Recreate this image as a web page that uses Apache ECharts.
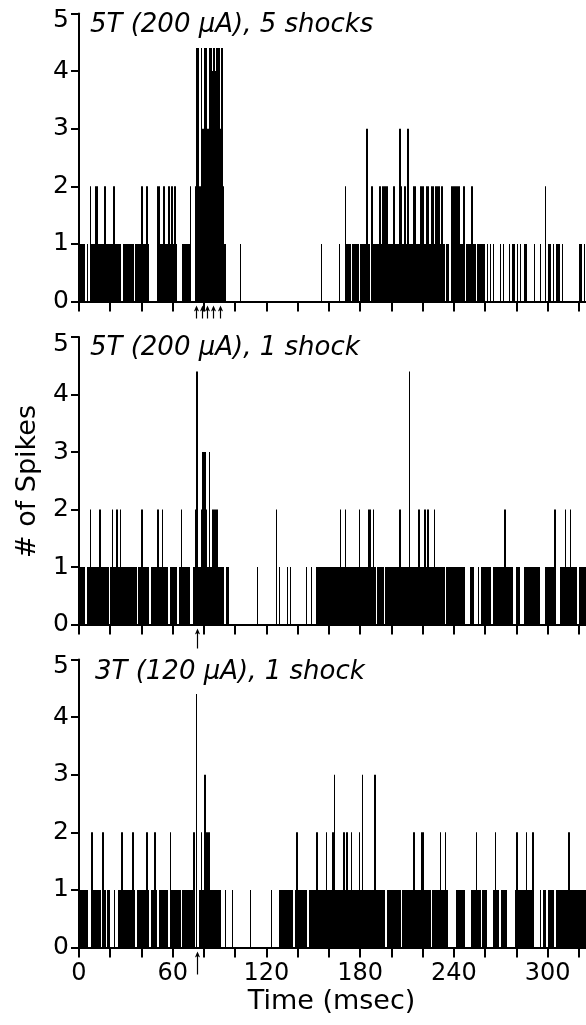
<!DOCTYPE html>
<html><head><meta charset="utf-8">
<script src="https://cdn.jsdelivr.net/npm/echarts/dist/echarts.min.js"></script>
<style>html,body{margin:0;padding:0;background:#fff}#c{width:586px;height:1025px}</style>
</head><body><div id="c"></div>
<script>
// ---- data (1 ms bins, one character per bin; 'x' = bar clipped at 4.4) ----
const BIN_MS = 1;
const CLIPPED = 4.4;
const titles = ["5T (200 \u03bcA), 5 shocks", "5T (200 \u03bcA), 1 shock", "3T (120 \u03bcA), 1 shock"];
const shockTimes1 = [75, 78.5, 82, 86, 90];
const shockTimes2 = [75.3];
const shockTimes3 = [75.3];
const xTickValues = [0,20,40,60,80,100,120,140,160,180,200,220,240,260,280,300,320];
const xLabelValues = [0,60,120,180,240,300];

const p1Counts =
 "1111010211 2211112111 1121111011 1111101111 2112100000 2211211212 1210001111 12002xx2x3 xx3xx4x4xx 3x21000000 " +
 "0001000000 0000000000 0000000000 0000000000 0000000000 0000010000 0000001000 2111011110 1111310211 1121222211 " +
 "1211132121 3111221122 2122122122 2121011022 2222112011 1211011111 0101010001 0100010110 1010011000 0100010020 " +
 "1101011101 0000000000 11010";
const p2Counts =
 "1111011211 1112111110 1211212111 1111111011 2111101111 2112111011 1110121111 10012x1123 3213122221 1110110000 " +
 "0000000000 0000100000 0000002010 0001010000 0000010010 0011111111 1111111211 2111111112 1111122121 0111101111 " +
 "1111121111 1x11111211 1212111211 1111011111 1111111000 1110010111 1111011111 1121111100 1100011111 1111100011 " +
 "1111200011 1211211110 11111";
const p3Counts =
 "1111110021 1111021011 0010011211 1111210111 1112101121 0111111021 1111101111 11120x0121 3222111111 1001000010 " +
 "0000000001 0000000000 0001000011 1111111012 1111110111 1121111121 1123111112 1211211112 1311111113 1111110111 " +
 "1111110111 1111211112 2111101111 1211210000 0111111000 0111211011 1000012110 1111000001 2111112111 2000010110 " +
 "1111011111 1112111111 11111";

function parseCounts(s) {
  return s.replace(/\s+/g, '').split('').map(c => c === 'x' ? CLIPPED : Number(c));
}
const panels = [
  { counts: parseCounts(p1Counts), shocks: shockTimes1, top: 13.5, height: 288, arrowLen: 13, title: titles[0], titleX: 90, titleY: 25 },
  { counts: parseCounts(p2Counts), shocks: shockTimes2, top: 337, height: 287.5, arrowLen: 20, title: titles[1], titleX: 90, titleY: 348 },
  { counts: parseCounts(p3Counts), shocks: shockTimes3, top: 659.5, height: 288, arrowLen: 23, title: titles[2], titleX: 95, titleY: 672 }
];

const FONT = "'DejaVu Sans', sans-serif";
const grids = [], xAxes = [], yAxes = [], series = [], graphics = [];

function barRenderer(counts) {
  return function (params, api) {
    const i = params.dataIndex;
    const v = counts[i];
    if (!v) return null;
    const a = api.coord([i * BIN_MS, 0]);
    const b = api.coord([(i + 1) * BIN_MS, v]);
    let x0 = Math.round(a[0]), x1 = Math.round(b[0]);
    const prev = counts[i - 1] || 0, next = counts[i + 1] || 0;
    if (!prev && !next) { x0 = Math.round((a[0] + b[0]) / 2 - 0.5); x1 = x0 + 1; }
    if (x1 <= x0) x1 = x0 + 1;
    return { type: 'rect', shape: { x: x0, y: b[1], width: x1 - x0, height: a[1] - b[1] }, style: { fill: '#000' } };
  };
}
function arrowRenderer(len) {
  return function (params, api) {
    const p = api.coord([api.value(0), 0]);
    const x = Math.round(p[0]) + 0.5, y0 = p[1] + 4;
    return { type: 'group', children: [
      { type: 'line', shape: { x1: x, y1: y0 + 2, x2: x, y2: y0 + len }, style: { stroke: '#000', lineWidth: 1.2 } },
      { type: 'polygon', shape: { points: [[x - 2.6, y0 + 6], [x, y0], [x + 2.6, y0 + 6], [x, y0 + 4.5]] }, style: { fill: '#000' } }
    ] };
  };
}

panels.forEach((p, k) => {
  grids.push({ left: 79, right: 0, top: p.top, height: p.height });
  xAxes.push({
    type: 'value', gridIndex: k, min: 0, max: 324.5,
    axisLine: { lineStyle: { color: '#000', width: 2 } },
    axisTick: { show: true, length: 10, customValues: xTickValues, lineStyle: { color: '#000', width: 2 } },
    axisLabel: { show: k === 2, customValues: xLabelValues, color: '#000', fontSize: 24, fontFamily: FONT, margin: 14 },
    splitLine: { show: false }
  });
  yAxes.push({
    type: 'value', gridIndex: k, min: 0, max: 5, interval: 1,
    axisLine: { show: true, lineStyle: { color: '#000', width: 2 } },
    axisTick: { show: true, length: 8, lineStyle: { color: '#000', width: 2 } },
    axisLabel: {
      color: '#000', fontSize: 25, fontFamily: FONT, margin: 10,
      formatter: v => v === 5 ? '{t|5}' : String(v),
      rich: { t: { fontSize: 25, fontFamily: FONT, color: '#000', padding: [14, 0, 0, 0] } }
    },
    splitLine: { show: false }
  });
  series.push({
    type: 'custom', xAxisIndex: k, yAxisIndex: k,
    renderItem: barRenderer(p.counts),
    data: p.counts.map((v, i) => [i * BIN_MS, v]),
    encode: { x: 0, y: 1 }, silent: true, animation: false
  });
  series.push({
    type: 'custom', xAxisIndex: k, yAxisIndex: k, clip: false,
    renderItem: arrowRenderer(p.arrowLen),
    data: p.shocks.map(t => [t, 0]),
    encode: { x: 0, y: 1 }, silent: true, animation: false
  });
  graphics.push({
    type: 'text', left: p.titleX, top: p.titleY - 13,
    style: { text: p.title, font: "italic 26px " + FONT, fill: '#000' }
  });
});

graphics.push({
  type: 'text', x: 28, y: 481.5, rotation: Math.PI / 2,
  style: { text: '# of Spikes', font: "27px " + FONT, fill: '#000', textAlign: 'center', textVerticalAlign: 'middle' }
});
graphics.push({
  type: 'text', x: 331.5, y: 1002,
  style: { text: 'Time (msec)', font: "27px " + FONT, fill: '#000', textAlign: 'center', textVerticalAlign: 'middle' }
});

const chart = echarts.init(document.getElementById('c'), null, { renderer: 'canvas' });
chart.setOption({
  backgroundColor: '#fff', animation: false,
  grid: grids, xAxis: xAxes, yAxis: yAxes, series: series, graphic: graphics
});
</script>
</body></html>
